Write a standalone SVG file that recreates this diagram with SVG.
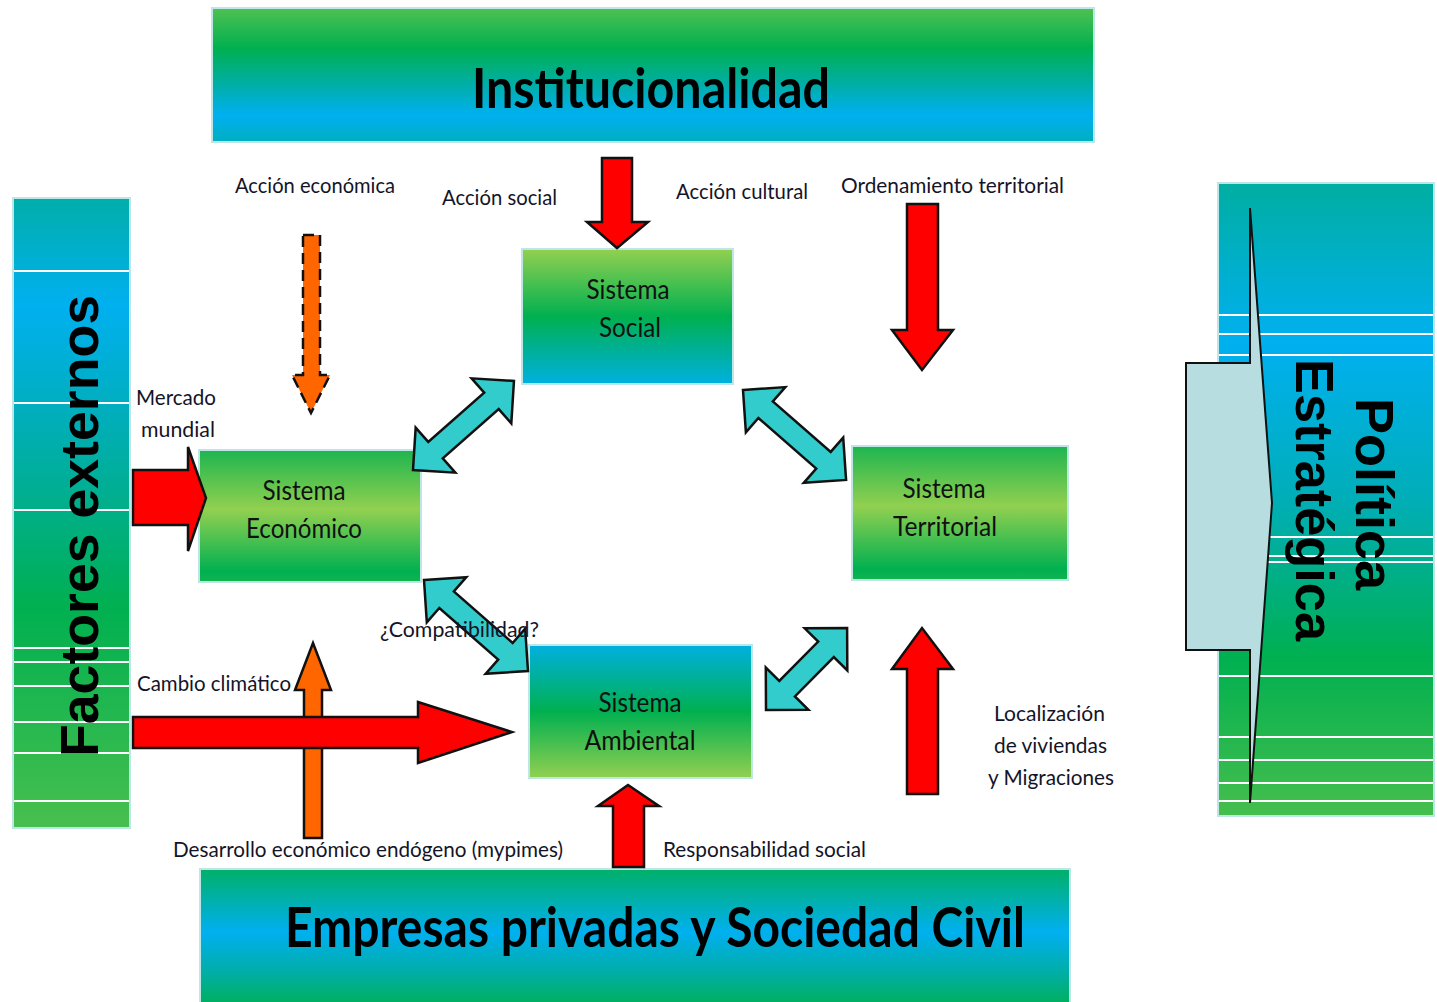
<svg xmlns="http://www.w3.org/2000/svg" width="1437" height="1002" viewBox="0 0 1437 1002">
<defs>
<linearGradient id="gTop" x1="0" y1="0" x2="0" y2="1">
<stop offset="0" stop-color="#4fc152"/><stop offset="0.3" stop-color="#00b050"/><stop offset="0.55" stop-color="#00aea0"/><stop offset="0.8" stop-color="#00b0f0"/><stop offset="1" stop-color="#00aec0"/>
</linearGradient>
<linearGradient id="gBot" x1="0" y1="0" x2="0" y2="1">
<stop offset="0" stop-color="#00b068"/><stop offset="0.45" stop-color="#00b0f0"/><stop offset="0.75" stop-color="#00aea4"/><stop offset="1" stop-color="#00b050"/>
</linearGradient>
<linearGradient id="gLeft" x1="0" y1="0" x2="0" y2="1">
<stop offset="0" stop-color="#00aeaa"/><stop offset="0.17" stop-color="#00b0f0"/><stop offset="0.38" stop-color="#00aeb0"/><stop offset="0.65" stop-color="#00b050"/><stop offset="1" stop-color="#48bf4e"/>
</linearGradient>
<linearGradient id="gRight" x1="0" y1="0" x2="0" y2="1">
<stop offset="0" stop-color="#00aea2"/><stop offset="0.25" stop-color="#00b0f0"/><stop offset="0.5" stop-color="#00aeb8"/><stop offset="0.75" stop-color="#00b050"/><stop offset="1" stop-color="#46be4d"/>
</linearGradient>
<linearGradient id="gSocial" x1="0" y1="0" x2="0" y2="1">
<stop offset="0" stop-color="#92d050"/><stop offset="0.5" stop-color="#00b050"/><stop offset="1" stop-color="#00b0e0"/>
</linearGradient>
<linearGradient id="gMid" x1="0" y1="0" x2="0" y2="1">
<stop offset="0" stop-color="#1db54f"/><stop offset="0.45" stop-color="#92d050"/><stop offset="0.92" stop-color="#00b050"/><stop offset="1" stop-color="#14b350"/>
</linearGradient>
<linearGradient id="gAmb" x1="0" y1="0" x2="0" y2="1">
<stop offset="0" stop-color="#00b0e0"/><stop offset="0.5" stop-color="#00b050"/><stop offset="1" stop-color="#92d050"/>
</linearGradient>
</defs>
<style>
.box{stroke:#bfe6e6;stroke-width:2}
.wl{stroke:#ffffff;stroke-width:2}
.red{fill:#ff0000;stroke:#111;stroke-width:2.5;stroke-linejoin:miter}
.org{fill:#ff6600;stroke:#111;stroke-width:2.5}
.cy{fill:#33cccc;stroke:#111;stroke-width:2.5;stroke-linejoin:miter}
.lbl{font-family:Lato,"Liberation Sans",sans-serif;font-size:21px;fill:#141428}
.node{font-family:Lato,"Liberation Sans",sans-serif;font-size:27px;fill:#111;text-anchor:middle}
.ban{font-family:Lato,"Liberation Sans",sans-serif;font-size:56px;font-weight:bold;fill:#000}
.side{font-family:"Liberation Sans",Arial,sans-serif;font-size:54px;font-weight:bold;fill:#000;text-anchor:middle}
</style>
<rect width="1437" height="1002" fill="#ffffff"/>

<g id="institucionalidad">
<rect class="box" x="212" y="8" width="882" height="134" fill="url(#gTop)"/>
<text class="ban" x="472" y="108" textLength="358" lengthAdjust="spacingAndGlyphs">Institucionalidad</text>
</g>

<g id="empresas">
<rect class="box" x="200" y="869" width="870" height="140" fill="url(#gBot)"/>
<text class="ban" x="285" y="947" textLength="740" lengthAdjust="spacingAndGlyphs">Empresas privadas y Sociedad Civil</text>
</g>

<g id="factores-externos">
<rect class="box" x="13" y="198" width="117" height="630" fill="url(#gLeft)"/>
<g class="wl">
<line x1="14" y1="271" x2="129" y2="271"/><line x1="14" y1="403" x2="129" y2="403"/><line x1="14" y1="510" x2="129" y2="510"/>
<line x1="14" y1="648" x2="129" y2="648"/><line x1="14" y1="662" x2="129" y2="662"/><line x1="14" y1="686" x2="129" y2="686"/>
<line x1="14" y1="722" x2="129" y2="722"/><line x1="14" y1="753" x2="129" y2="753"/><line x1="14" y1="801" x2="129" y2="801"/>
</g>
<text class="side" transform="translate(98,526) rotate(-90)" textLength="462" lengthAdjust="spacingAndGlyphs">Factores externos</text>
</g>

<g id="politica-estrategica">
<rect class="box" x="1218" y="183" width="216" height="633" fill="url(#gRight)"/>
<g class="wl">
<line x1="1219" y1="315" x2="1433" y2="315"/><line x1="1219" y1="334" x2="1433" y2="334"/><line x1="1219" y1="355" x2="1433" y2="355"/>
<line x1="1219" y1="537" x2="1433" y2="537"/><line x1="1219" y1="556" x2="1433" y2="556"/><line x1="1219" y1="562" x2="1433" y2="562"/>
<line x1="1219" y1="676" x2="1433" y2="676"/><line x1="1219" y1="737" x2="1433" y2="737"/><line x1="1219" y1="760" x2="1433" y2="760"/>
<line x1="1219" y1="783" x2="1433" y2="783"/><line x1="1219" y1="801" x2="1433" y2="801"/>
</g>
<path d="M1250,208 L1272,503 L1250,803 L1250,650 L1186,650 L1186,363 L1250,363 Z" fill="#b8dde0" stroke="#111" stroke-width="2" stroke-linejoin="miter"/>
<text class="side" transform="translate(1356,494) rotate(90)" textLength="192" lengthAdjust="spacingAndGlyphs">Política</text>
<text class="side" transform="translate(1296,500) rotate(90)" textLength="282" lengthAdjust="spacingAndGlyphs">Estratégica</text>
</g>

<g id="sistema-social">
<rect class="box" x="522" y="249" width="211" height="135" fill="url(#gSocial)"/>
<text class="node" x="628" y="299" textLength="83" lengthAdjust="spacingAndGlyphs">Sistema</text>
<text class="node" x="630" y="337" textLength="62" lengthAdjust="spacingAndGlyphs">Social</text>
</g>

<g id="sistema-economico">
<rect class="box" x="199" y="450" width="222" height="132" fill="url(#gMid)"/>
<text class="node" x="304" y="500" textLength="83" lengthAdjust="spacingAndGlyphs">Sistema</text>
<text class="node" x="304" y="538" textLength="116" lengthAdjust="spacingAndGlyphs">Económico</text>
</g>

<g id="sistema-territorial">
<rect class="box" x="852" y="446" width="216" height="134" fill="url(#gMid)"/>
<text class="node" x="944" y="498" textLength="83" lengthAdjust="spacingAndGlyphs">Sistema</text>
<text class="node" x="945" y="536" textLength="104" lengthAdjust="spacingAndGlyphs">Territorial</text>
</g>

<g id="sistema-ambiental">
<rect class="box" x="529" y="645" width="223" height="133" fill="url(#gAmb)"/>
<text class="node" x="640" y="712" textLength="83" lengthAdjust="spacingAndGlyphs">Sistema</text>
<text class="node" x="640" y="750" textLength="111" lengthAdjust="spacingAndGlyphs">Ambiental</text>
</g>

<g id="connectors">
<path class="org" d="M303,235 H320 V375 H330 L311,413 L292,375 H303 Z" stroke-dasharray="11,6"/>
<path class="org" d="M304,838 V690 H295 L313,643 L331,690 H322 V838 Z"/>
<path class="red" d="M602,158 H632 V222 H648 L617,248 L587,222 H602 Z"/>
<path class="red" d="M907,204 H938 V330 H953 L922,370 L892,330 H907 Z"/>
<path class="red" d="M133,470 H188 V447 L206,498 L188,551 V525 H133 Z"/>
<path class="red" d="M133,717 H418 V702 L512,732 L418,763 V748 H133 Z"/>
<path class="red" d="M613,867 V806 H598 L628,785 L659,806 H644 V867 Z"/>
<path class="red" d="M907,794 V669 H892 L922,628 L953,669 H938 V794 Z"/>
<path class="cy" transform="translate(413,470) rotate(-41.4)" d="M0,0 L30,-30 L30,-11 L104.6,-11 L104.6,-30 L134.6,0 L104.6,30 L104.6,11 L30,11 L30,30 Z"/>
<path class="cy" transform="translate(743,390) rotate(41.1)" d="M0,0 L30,-30 L30,-11 L106.8,-11 L106.8,-30 L136.8,0 L106.8,30 L106.8,11 L30,11 L30,30 Z"/>
<path class="cy" transform="translate(424,580) rotate(41.2)" d="M0,0 L30,-30 L30,-11 L108.2,-11 L108.2,-30 L138.2,0 L108.2,30 L108.2,11 L30,11 L30,30 Z"/>
<path class="cy" transform="translate(766,710) rotate(-45.3)" d="M0,0 L30,-30 L30,-11 L85.3,-11 L85.3,-30 L115.3,0 L85.3,30 L85.3,11 L30,11 L30,30 Z"/>
</g>

<g id="labels">
<text class="lbl" x="235" y="193" textLength="160" lengthAdjust="spacingAndGlyphs">Acción económica</text>
<text class="lbl" x="442" y="205" textLength="115" lengthAdjust="spacingAndGlyphs">Acción social</text>
<text class="lbl" x="676" y="199" textLength="132" lengthAdjust="spacingAndGlyphs">Acción cultural</text>
<text class="lbl" x="841" y="193" textLength="223" lengthAdjust="spacingAndGlyphs">Ordenamiento territorial</text>
<text class="lbl" x="136" y="405" textLength="80" lengthAdjust="spacingAndGlyphs">Mercado</text>
<text class="lbl" x="141" y="437" textLength="74" lengthAdjust="spacingAndGlyphs">mundial</text>
<text class="lbl" x="380" y="637" textLength="159" lengthAdjust="spacingAndGlyphs">¿Compatibilidad?</text>
<text class="lbl" x="137" y="691" textLength="154" lengthAdjust="spacingAndGlyphs">Cambio climático</text>
<text class="lbl" x="173" y="857" textLength="390" lengthAdjust="spacingAndGlyphs">Desarrollo económico endógeno (mypimes)</text>
<text class="lbl" x="663" y="857" textLength="203" lengthAdjust="spacingAndGlyphs">Responsabilidad social</text>
<text class="lbl" x="994" y="721" textLength="111" lengthAdjust="spacingAndGlyphs">Localización</text>
<text class="lbl" x="994" y="753" textLength="113" lengthAdjust="spacingAndGlyphs">de viviendas</text>
<text class="lbl" x="988" y="785" textLength="126" lengthAdjust="spacingAndGlyphs">y Migraciones</text>
</g>
</svg>
